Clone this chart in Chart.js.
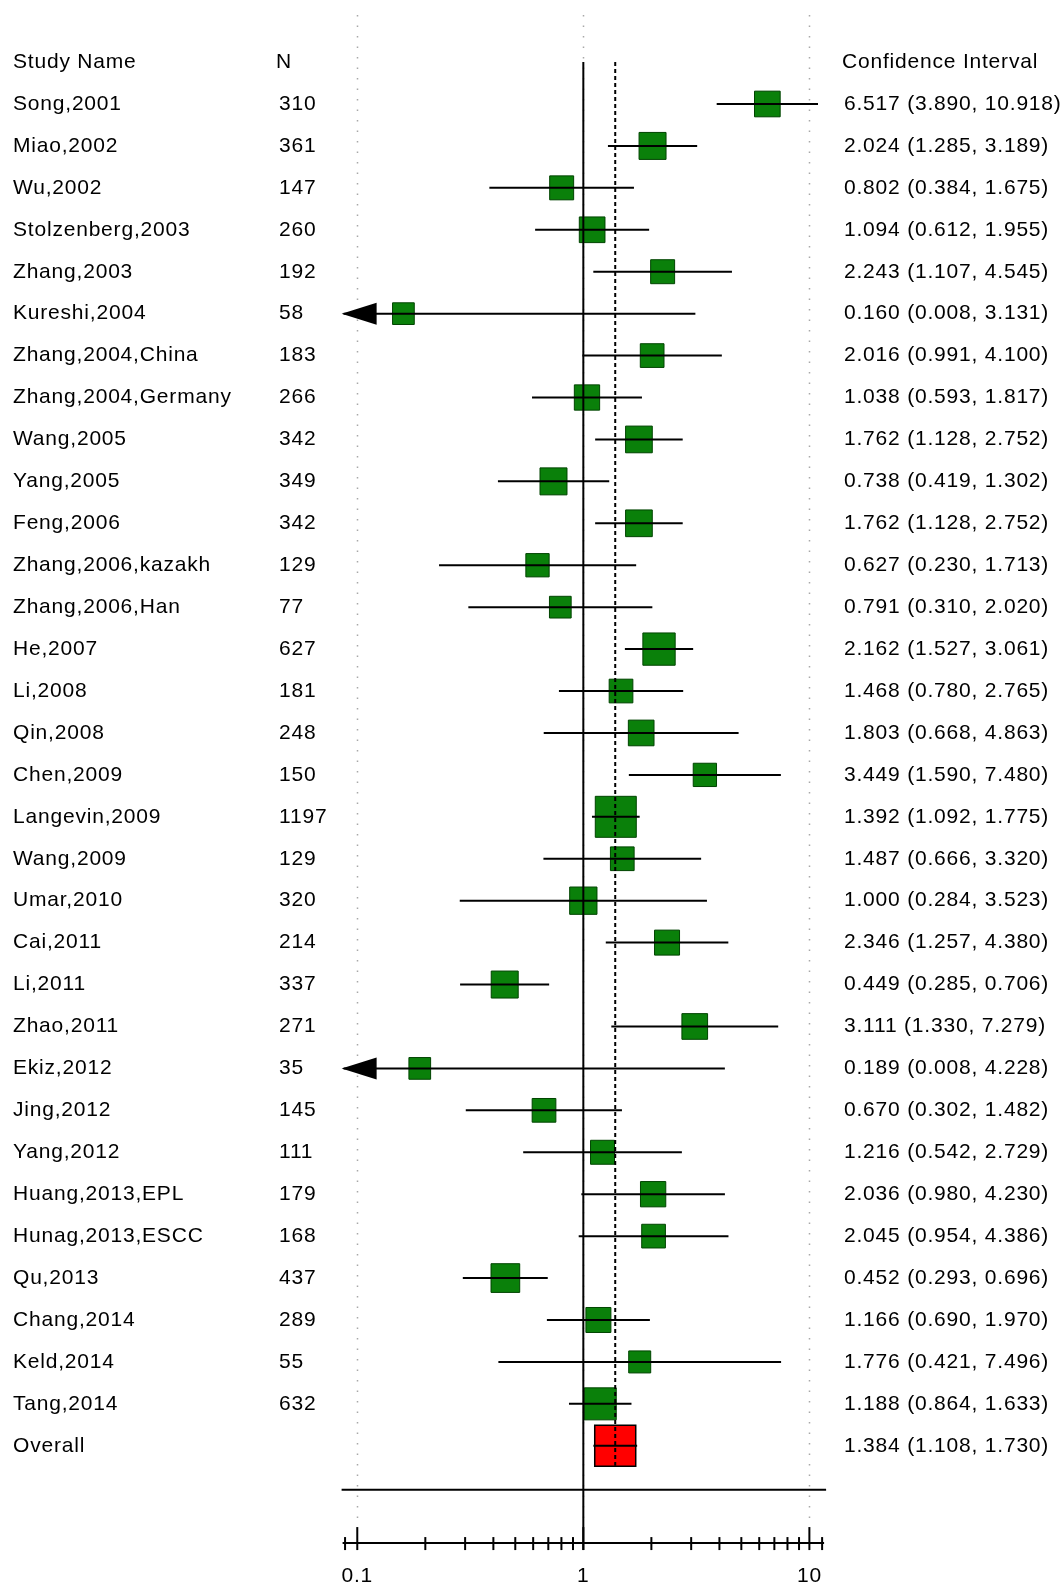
<!DOCTYPE html>
<html>
<head>
<meta charset="utf-8">
<script src="https://cdn.jsdelivr.net/npm/chart.js@4.4.1/dist/chart.umd.min.js"></script>
<style>
  html, body { margin: 0; padding: 0; background: #fff; }
  #wrap { width: 1062px; height: 1585px; }
</style>
</head>
<body>
<div id="wrap"><canvas id="forest" width="1062" height="1585"></canvas></div>
<script>
// Study data
const studies = ['Song,2001', 'Miao,2002', 'Wu,2002', 'Stolzenberg,2003', 'Zhang,2003', 'Kureshi,2004',
  'Zhang,2004,China', 'Zhang,2004,Germany', 'Wang,2005', 'Yang,2005', 'Feng,2006', 'Zhang,2006,kazakh',
  'Zhang,2006,Han', 'He,2007', 'Li,2008', 'Qin,2008', 'Chen,2009', 'Langevin,2009', 'Wang,2009', 'Umar,2010',
  'Cai,2011', 'Li,2011', 'Zhao,2011', 'Ekiz,2012', 'Jing,2012', 'Yang,2012', 'Huang,2013,EPL',
  'Hunag,2013,ESCC', 'Qu,2013', 'Chang,2014', 'Keld,2014', 'Tang,2014'];
const sampleN = [310, 361, 147, 260, 192, 58, 183, 266, 342, 349, 342, 129, 77, 627, 181, 248, 150, 1197,
  129, 320, 214, 337, 271, 35, 145, 111, 179, 168, 437, 289, 55, 632];
const oddsRatio = [6.517, 2.024, 0.802, 1.094, 2.243, 0.160, 2.016, 1.038, 1.762, 0.738, 1.762, 0.627,
  0.791, 2.162, 1.468, 1.803, 3.449, 1.392, 1.487, 1.000, 2.346, 0.449, 3.111, 0.189, 0.670, 1.216,
  2.036, 2.045, 0.452, 1.166, 1.776, 1.188];
const ciLower = [3.890, 1.285, 0.384, 0.612, 1.107, 0.008, 0.991, 0.593, 1.128, 0.419, 1.128, 0.230,
  0.310, 1.527, 0.780, 0.668, 1.590, 1.092, 0.666, 0.284, 1.257, 0.285, 1.330, 0.008, 0.302, 0.542,
  0.980, 0.954, 0.293, 0.690, 0.421, 0.864];
const ciUpper = [10.918, 3.189, 1.675, 1.955, 4.545, 3.131, 4.100, 1.817, 2.752, 1.302, 2.752, 1.713,
  2.020, 3.061, 2.765, 4.863, 7.480, 1.775, 3.320, 3.523, 4.380, 0.706, 7.279, 4.228, 1.482, 2.729,
  4.230, 4.386, 0.696, 1.970, 7.496, 1.633];
// relative weights (%)
const weights = [3.05, 3.37, 2.66, 3.05, 2.66, 2.18, 2.60, 2.96, 3.30, 3.37, 3.30, 2.51, 2.18, 4.83,
  2.60, 3.05, 2.51, 7.78, 2.60, 3.45, 2.89, 3.37, 3.05, 2.18, 2.60, 2.66, 2.96, 2.60, 3.81, 2.89, 2.24, 4.74];

// Pooled estimate
const overallLabel = 'Overall';
const overallOR = 1.384;
const overallLower = 1.108;
const overallUpper = 1.730;

// Axis ticks
const majorTicks = [0.1, 1, 10];
const minorTicks = [0.2, 0.3, 0.4, 0.5, 0.6, 0.7, 0.8, 0.9, 2, 3, 4, 5, 6, 7, 8, 9];

const FONT = '21px "Liberation Sans", Arial, sans-serif';
const ROW_HEADER = -1;
const ROW_OVERALL = studies.length;

// Draws the reference lines, whiskers, axis and text columns
const forestDecor = {
    id: 'forestDecor',
    beforeDatasetsDraw(chart) {
        const { ctx } = chart;
        const xs = chart.scales.x, ys = chart.scales.y;
        ctx.save();
        ctx.strokeStyle = '#a8a8a8';
        ctx.lineWidth = 1.5;
        ctx.setLineDash([1.5, 9]);
        majorTicks.forEach(t => {
            const x = Math.round(xs.getPixelForValue(t)) + 0.5;
            ctx.beginPath();
            ctx.moveTo(x, ys.getPixelForValue(-2.12));
            ctx.lineTo(x, ys.getPixelForValue(33.77));
            ctx.stroke();
        });
        ctx.restore();
    },
    afterDatasetsDraw(chart) {
        const { ctx } = chart;
        const xs = chart.scales.x, ys = chart.scales.y;
        const X = v => xs.getPixelForValue(v);
        const Y = v => ys.getPixelForValue(v);
        const axisY = Y(34.32);

        ctx.save();
        ctx.strokeStyle = '#000';
        ctx.fillStyle = '#000';
        ctx.lineWidth = 2;

        // No-effect line and pooled dashed line
        ctx.beginPath();
        ctx.moveTo(X(1), Y(ROW_HEADER));
        ctx.lineTo(X(1), axisY + 7);
        ctx.stroke();
        ctx.setLineDash([4, 3]);
        ctx.beginPath();
        ctx.moveTo(X(overallOR), Y(ROW_HEADER));
        ctx.lineTo(X(overallOR), Y(ROW_OVERALL) + 20);
        ctx.stroke();
        ctx.setLineDash([]);

        // Confidence interval whiskers
        const whisker = (lo, hi, row) => {
            const y = Y(row);
            const a = Math.max(lo, xs.min), b = Math.min(hi, xs.max);
            ctx.beginPath();
            ctx.moveTo(X(a), y);
            ctx.lineTo(X(b), y);
            ctx.stroke();
            if (lo < xs.min) {
                const tip = X(xs.min) - 2;
                ctx.beginPath();
                ctx.moveTo(tip, y);
                ctx.lineTo(tip + 35, y - 11);
                ctx.lineTo(tip + 35, y + 11);
                ctx.closePath();
                ctx.fill();
            }
        };
        studies.forEach((s, i) => whisker(ciLower[i], ciUpper[i], i));
        whisker(overallLower, overallUpper, ROW_OVERALL);

        // Separator and axis
        const sepY = Y(33.05);
        ctx.beginPath();
        ctx.moveTo(X(xs.min) - 2, sepY);
        ctx.lineTo(X(xs.max) + 3, sepY);
        ctx.stroke();
        ctx.beginPath();
        ctx.moveTo(X(xs.min) - 1, axisY);
        ctx.lineTo(X(xs.max) + 1, axisY);
        ctx.stroke();
        const tick = (v, up) => {
            ctx.beginPath();
            ctx.moveTo(X(v), axisY - up);
            ctx.lineTo(X(v), axisY + 7);
            ctx.stroke();
        };
        majorTicks.forEach(t => tick(t, 16));
        minorTicks.forEach(t => tick(t, 6));
        tick(xs.min * 1.015, 6);
        tick(xs.max * 0.99, 6);
        ctx.restore();
    },
    afterDraw(chart) {
        const { ctx } = chart;
        const xs = chart.scales.x, ys = chart.scales.y;
        ctx.save();
        ctx.font = FONT;
        if ('letterSpacing' in ctx) ctx.letterSpacing = '0.8px';
        ctx.fillStyle = '#000';
        ctx.textBaseline = 'middle';
        ctx.textAlign = 'left';

        const fmt = v => v.toFixed(3);
        const hy = ys.getPixelForValue(ROW_HEADER);
        ctx.fillText('Study Name', 13, hy);
        ctx.fillText('N', 276, hy);
        ctx.fillText('Confidence Interval', 842, hy);

        studies.forEach((s, i) => {
            const y = ys.getPixelForValue(i);
            ctx.fillText(s, 13, y);
            ctx.fillText(String(sampleN[i]), 279, y);
            ctx.fillText(`${fmt(oddsRatio[i])} (${fmt(ciLower[i])}, ${fmt(ciUpper[i])})`, 844, y);
        });
        const oy = ys.getPixelForValue(ROW_OVERALL);
        ctx.fillText(overallLabel, 13, oy);
        ctx.fillText(`${fmt(overallOR)} (${fmt(overallLower)}, ${fmt(overallUpper)})`, 844, oy);

        // Axis tick labels
        ctx.textAlign = 'center';
        const ly = ys.getPixelForValue(35.1);
        majorTicks.forEach(t => ctx.fillText(String(t), xs.getPixelForValue(t), ly));
        ctx.restore();
    }
};

const boxSide = w => Math.sqrt(w) * 14.7;

new Chart(document.getElementById('forest'), {
    type: 'scatter',
    data: {
        datasets: [{
            label: 'Studies',
            data: oddsRatio.map((v, i) => ({ x: v, y: i })),
            pointStyle: 'rect',
            pointRadius: weights.map(w => boxSide(w) / Math.SQRT2),
            backgroundColor: '#0a800a',
            borderColor: '#004400',
            borderWidth: 1,
            clip: false
        }, {
            label: 'Overall',
            data: [{ x: overallOR, y: ROW_OVERALL }],
            pointStyle: 'rect',
            pointRadius: 41 / Math.SQRT2,
            backgroundColor: '#ff0000',
            borderColor: '#000',
            borderWidth: 1.5,
            clip: false
        }]
    },
    options: {
        responsive: false,
        animation: false,
        layout: { autoPadding: false, padding: { left: 343.6, right: 238.9, top: 0, bottom: 0 } },
        plugins: { legend: { display: false }, tooltip: { enabled: false } },
        scales: {
            x: { type: 'logarithmic', min: 0.087, max: 11.5, bounds: 'data', display: false },
            y: { type: 'linear', min: -2.48, max: 35.32, reverse: true, bounds: 'data', display: false }
        }
    },
    plugins: [forestDecor]
});
</script>
</body>
</html>
